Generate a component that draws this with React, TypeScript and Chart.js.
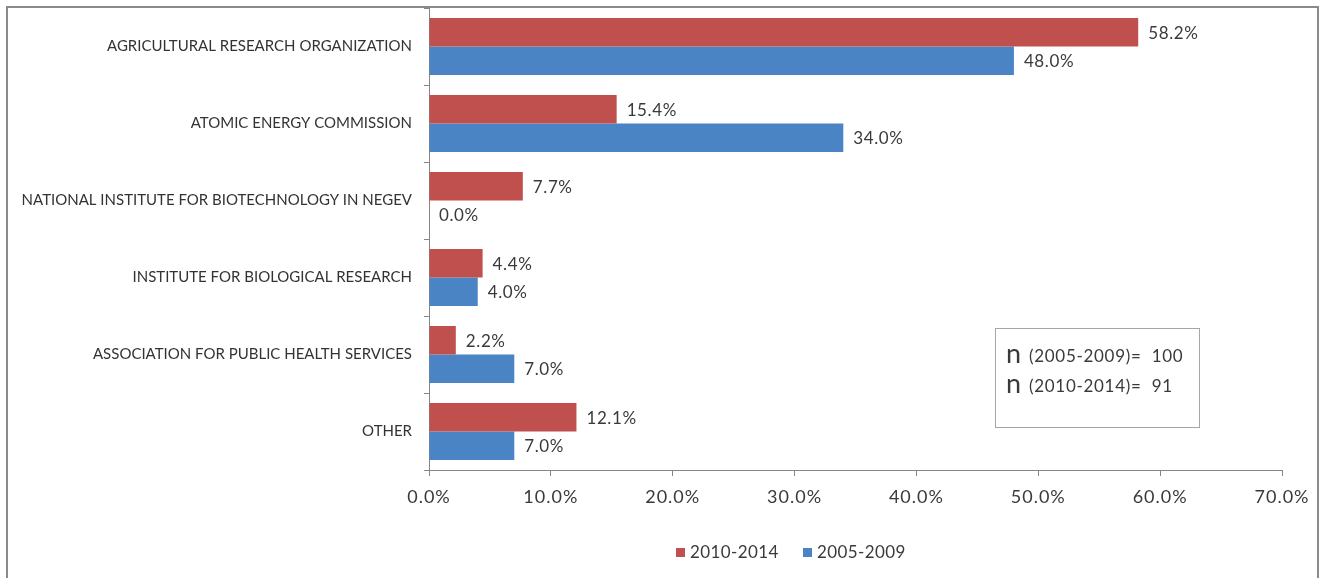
import React, { useEffect, useRef } from "react";
import { Chart, registerables } from "chart.js";

Chart.register(...registerables);

const categories = [
  "AGRICULTURAL RESEARCH ORGANIZATION",
  "ATOMIC ENERGY COMMISSION",
  "NATIONAL INSTITUTE FOR BIOTECHNOLOGY IN NEGEV",
  "INSTITUTE FOR BIOLOGICAL RESEARCH",
  "ASSOCIATION FOR PUBLIC HEALTH SERVICES",
  "OTHER",
];
const series2010 = [58.2, 15.4, 7.7, 4.4, 2.2, 12.1];
const series2005 = [48.0, 34.0, 0.0, 4.0, 7.0, 7.0];
const seriesNames = ["2010-2014", "2005-2009"];
const noteLines = [
  { n: "n", text: "(2005-2009)=  100" },
  { n: "n", text: "(2010-2014)=  91" },
];

const FONT = "Lato, 'Open Sans', sans-serif";
const TEXT = "#3a3a3a";
const RED = "#C0504D";
const BLUE = "#4A84C5";

const extrasPlugin = {
  id: "extras",
  beforeDraw(chart: any) {
    (chart.ctx as any).letterSpacing = "0px";
  },
  afterDatasetsDraw(chart: any) {
    const ctx: any = chart.ctx;
    const area = chart.chartArea;
    ctx.save();
    // data labels
    ctx.letterSpacing = "0.6px";
    ctx.font = `17px ${FONT}`;
    ctx.fillStyle = TEXT;
    ctx.textAlign = "left";
    ctx.textBaseline = "middle";
    chart.data.datasets.forEach((ds: any, i: number) => {
      const meta = chart.getDatasetMeta(i);
      meta.data.forEach((bar: any, j: number) => {
        ctx.fillText(ds.data[j].toFixed(1) + "%", bar.x + 10, bar.y + 1);
      });
    });
    // legend
    const ly = area.bottom + 82;
    const items = [
      { label: seriesNames[0], color: RED, x: area.left + 247 },
      { label: seriesNames[1], color: BLUE, x: area.left + 374 },
    ];
    ctx.letterSpacing = "0.4px";
    items.forEach((it) => {
      ctx.fillStyle = it.color;
      ctx.fillRect(it.x, ly - 4, 9, 9);
      ctx.fillStyle = TEXT;
      ctx.font = `17px ${FONT}`;
      ctx.fillText(it.label, it.x + 14, ly + 1);
    });
    // note box
    const bx = area.left + 566;
    const by = area.top + 320;
    ctx.strokeStyle = "#a6a6a6";
    ctx.lineWidth = 1;
    ctx.strokeRect(bx + 0.5, by + 0.5, 204, 99);
    noteLines.forEach((l, k) => {
      const y = by + 28 + k * 30;
      ctx.fillStyle = TEXT;
      ctx.letterSpacing = "0px";
      ctx.font = `27px ${FONT}`;
      ctx.fillText(l.n, bx + 11, y - 2);
      ctx.letterSpacing = "0.7px";
      ctx.font = `17px ${FONT}`;
      ctx.fillText(l.text, bx + 34, y + 1);
    });
    ctx.restore();
    // x-axis tick labels (z: 1) are drawn after this with wider spacing
    ctx.letterSpacing = "1px";
  },
  afterDraw(chart: any) {
    (chart.ctx as any).letterSpacing = "0px";
  },
};

export default function App() {
  const ref = useRef<HTMLCanvasElement>(null);
  useEffect(() => {
    if (!ref.current) return;
    const chart = new Chart(ref.current, {
      type: "bar",
      data: {
        labels: categories,
        datasets: [
          { label: seriesNames[0], data: series2010, backgroundColor: RED, borderWidth: 0 },
          { label: seriesNames[1], data: series2005, backgroundColor: BLUE, borderWidth: 0 },
        ],
      },
      options: {
        indexAxis: "y",
        animation: false,
        responsive: false,
        maintainAspectRatio: false,
        layout: { padding: { top: 8, right: 40, left: 0, bottom: 0 } },
        datasets: { bar: { categoryPercentage: 0.74, barPercentage: 1 } },
        plugins: { legend: { display: false }, tooltip: { enabled: false } },
        scales: {
          x: {
            min: 0,
            max: 70,
            ticks: {
              stepSize: 10,
              callback: (v: any) => Number(v).toFixed(1) + "%",
              font: { family: FONT, size: 18 },
              color: TEXT,
              padding: 10,
              maxRotation: 0,
              z: 1,
            },
            grid: { drawOnChartArea: false, drawTicks: true, tickLength: 6, color: "#868686" },
            border: { color: "#868686" },
            afterFit: (s: any) => { s.height = 108; s.paddingLeft = 0; s.paddingRight = 0; },
          },
          y: {
            ticks: {
              font: { family: FONT, size: 15 },
              color: "#333333",
              padding: 12,
              autoSkip: false,
            },
            grid: { drawOnChartArea: false, drawTicks: true, tickLength: 5, color: "#868686", offset: true },
            border: { color: "#868686" },
            afterFit: (s: any) => { s.width = 429; s.paddingTop = 0; s.paddingBottom = 0; },
          },
        },
      },
      plugins: [extrasPlugin],
    });
    return () => chart.destroy();
  }, []);
  return (
    <div style={{ position: "fixed", left: 0, top: 0, width: 1322, height: 578, overflow: "hidden", background: "#fff" }}>
      <div style={{ position: "absolute", left: 6, top: 6, width: 1309, height: 640, border: "2px solid #8a8a8a" }} />
      <canvas ref={ref} width={1322} height={578} style={{ position: "absolute", left: 0, top: 0 }} />
    </div>
  );
}
